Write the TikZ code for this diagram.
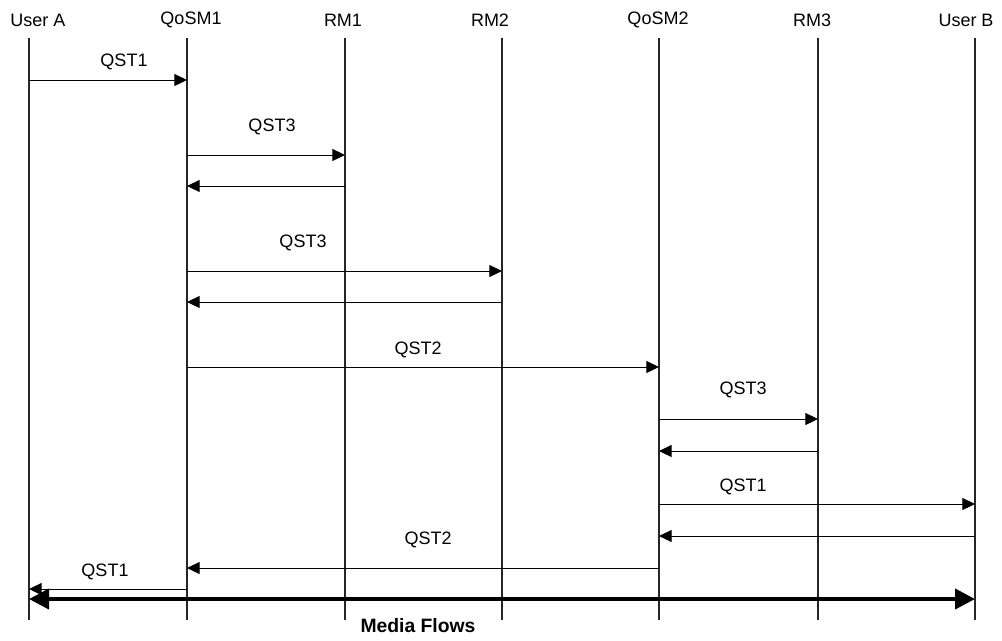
\documentclass[tikz,border=0pt]{standalone}
\usepackage{fontspec}
\setmainfont{Liberation Sans}
\usetikzlibrary{arrows.meta}

\begin{document}
\begin{tikzpicture}[x=0.75pt,y=-0.75pt,
  hdr/.style={font=\fontsize{13.5}{16}\selectfont,inner sep=0pt},
  lbl/.style={font=\fontsize{13.5}{16}\selectfont,inner sep=0pt},
  life/.style={line width=0.8pt,draw=black!85},
  msg/.style={-{Triangle[length=9.5pt,width=9pt]},line width=0.75pt},
  media/.style={{Triangle[length=15pt,width=15pt]}-{Triangle[length=15pt,width=15pt]},line width=3pt}]
\useasboundingbox (0,0) rectangle (1002,640);
% participants
\node[hdr] (uA) at (38,20) {User A};
\node[hdr] (qm1) at (191,20) {QoSM1};
\node[hdr] (rm1) at (343,20) {RM1};
\node[hdr] (rm2) at (490,20) {RM2};
\node[hdr] (qm2) at (658,20) {QoSM2};
\node[hdr] (rm3) at (812,20) {RM3};
\node[hdr] (uB) at (966,20) {User B};
\coordinate (lA) at (29,38);
\coordinate (lQ1) at (187,38);
\coordinate (lR1) at (345,38);
\coordinate (lR2) at (502,38);
\coordinate (lQ2) at (659,38);
\coordinate (lR3) at (818,38);
\coordinate (lB) at (975,38);
% lifelines
\draw[life] (lA) -- (lA |- 0,620);
\draw[life] (lQ1) -- (lQ1 |- 0,620);
\draw[life] (lR1) -- (lR1 |- 0,620);
\draw[life] (lR2) -- (lR2 |- 0,620);
\draw[life] (lQ2) -- (lQ2 |- 0,620);
\draw[life] (lR3) -- (lR3 |- 0,620);
\draw[life] (lB) -- (lB |- 0,620);
% messages
\node[lbl] (m1) at (124,62) {QST1};
\draw[msg] (lA |- 0,80) -- (lQ1 |- 0,80);
\node[lbl] (m2) at (272,127) {QST3};
\draw[msg] (lQ1 |- 0,155) -- (lR1 |- 0,155);
\draw[msg] (lR1 |- 0,186) -- (lQ1 |- 0,186);
\node[lbl] (m3) at (303,243) {QST3};
\draw[msg] (lQ1 |- 0,271) -- (lR2 |- 0,271);
\draw[msg] (lR2 |- 0,302) -- (lQ1 |- 0,302);
\node[lbl] (m4) at (418,350) {QST2};
\draw[msg] (lQ1 |- 0,367) -- (lQ2 |- 0,367);
\node[lbl] (m5) at (743,390) {QST3};
\draw[msg] (lQ2 |- 0,419) -- (lR3 |- 0,419);
\draw[msg] (lR3 |- 0,451) -- (lQ2 |- 0,451);
\node[lbl] (m6) at (743,487) {QST1};
\draw[msg] (lQ2 |- 0,504) -- (lB |- 0,504);
\draw[msg] (lB |- 0,536) -- (lQ2 |- 0,536);
\node[lbl] (m7) at (428,540) {QST2};
\draw[msg] (lQ2 |- 0,568) -- (lQ1 |- 0,568);
\node[lbl] (m8) at (105,572) {QST1};
\draw[msg] (lQ1 |- 0,589) -- (lA |- 0,589);
% media
\draw[media] (lA |- 0,599) -- (lB |- 0,599);
\node[lbl,font=\fontsize{14.5}{17}\selectfont\bfseries] (mf) at (418,626) {Media Flows};
\end{tikzpicture}
\end{document}
